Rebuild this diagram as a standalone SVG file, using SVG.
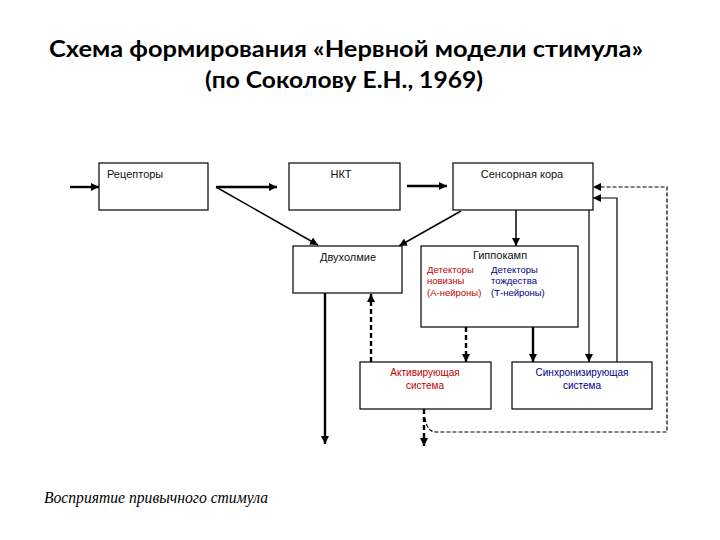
<svg xmlns="http://www.w3.org/2000/svg" width="720" height="540" viewBox="0 0 720 540">
<defs>
<marker id="ah" viewBox="0 0 10 10" refX="10" refY="5" markerWidth="8" markerHeight="8" markerUnits="userSpaceOnUse" orient="auto">
<path d="M0,0 L10,5 L0,10 z" fill="#000"/>
</marker>
</defs>
<style>
.box{fill:#fff;stroke:#000;stroke-width:1.2}
.t{font-family:"Liberation Sans",Arial,sans-serif;font-size:11px;font-weight:normal;fill:#111}
.s{font-family:"Liberation Sans",Arial,sans-serif;font-size:9.5px;font-weight:normal}
.red{fill:#c00000}
.blue{fill:#000080}
.title{font-family:Lato,"Open Sans",sans-serif;font-weight:bold;font-size:23px;fill:#000}
.thick{stroke:#000;stroke-width:2.4;fill:none}
.mid{stroke:#000;stroke-width:1.5;fill:none}
.thin{stroke:#000;stroke-width:1.2;fill:none}
.dash{stroke:#000;stroke-width:2.4;fill:none;stroke-dasharray:5,3}
.dthin{stroke:#000;stroke-width:1.2;fill:none;stroke-dasharray:4,2}
</style>
<rect width="720" height="540" fill="#fff"/>
<g id="title">
<text class="title" x="49" y="57" textLength="594" lengthAdjust="spacingAndGlyphs">Схема формирования «Нервной модели стимула»</text>
<text class="title" x="205" y="88" textLength="278" lengthAdjust="spacingAndGlyphs">(по Соколову Е.Н., 1969)</text>
</g>
<g id="connectors">
<line class="thick" x1="70" y1="187" x2="99" y2="187" marker-end="url(#ah)"/>
<line class="thick" x1="216" y1="187" x2="277" y2="187" marker-end="url(#ah)"/>
<line class="mid" x1="216" y1="187" x2="318" y2="245" marker-end="url(#ah)"/>
<line class="thick" x1="407" y1="186" x2="447" y2="186" marker-end="url(#ah)"/>
<line class="mid" x1="461" y1="211" x2="399" y2="246" marker-end="url(#ah)"/>
<line class="mid" x1="516" y1="210" x2="516" y2="246" marker-end="url(#ah)"/>
<line class="thick" x1="325" y1="293" x2="325" y2="444" marker-end="url(#ah)"/>
<line class="dash" x1="371" y1="362" x2="371" y2="294" marker-end="url(#ah)"/>
<line class="dash" x1="466" y1="327" x2="466" y2="362" marker-end="url(#ah)"/>
<line class="thick" x1="533" y1="327" x2="533" y2="362" marker-end="url(#ah)"/>
<line class="thin" x1="589" y1="210" x2="589" y2="362" marker-end="url(#ah)"/>
<polyline class="thin" points="617,362 617,198 593,198" marker-end="url(#ah)"/>
<line class="dash" x1="424" y1="409" x2="424" y2="446" marker-end="url(#ah)"/>
<path class="dthin" d="M425,418 Q427,432 436,432 L667,432 L667,187 L593,187" marker-end="url(#ah)"/>
</g>
<g id="receptors">
<rect class="box" x="99" y="163" width="109" height="47"/>
<text class="t" x="107" y="178">Рецепторы</text>
</g>
<g id="nkt">
<rect class="box" x="289" y="163" width="111" height="47"/>
<text class="t" x="341" y="178" text-anchor="middle">НКТ</text>
</g>
<g id="sensory">
<rect class="box" x="453" y="163" width="140" height="47"/>
<text class="t" x="522" y="178" text-anchor="middle">Сенсорная кора</text>
</g>
<g id="dvuholmie">
<rect class="box" x="293" y="246" width="109" height="47"/>
<text class="t" x="348" y="261" text-anchor="middle">Двухолмие</text>
</g>
<g id="hippocampus">
<rect class="box" x="421" y="246" width="157" height="81"/>
<text class="t" x="500" y="259" text-anchor="middle">Гиппокамп</text>
<text class="s red" x="427" y="273">Детекторы</text>
<text class="s red" x="427" y="284">новизны</text>
<text class="s red" x="427" y="296">(А-нейроны)</text>
<text class="s blue" x="491" y="273">Детекторы</text>
<text class="s blue" x="491" y="284">тождества</text>
<text class="s blue" x="491" y="296">(Т-нейроны)</text>
</g>
<g id="activating">
<rect class="box" x="360" y="362" width="131" height="47"/>
<text class="s red" x="425" y="376" text-anchor="middle" style="font-size:10px">Активирующая</text>
<text class="s red" x="425" y="389" text-anchor="middle" style="font-size:10px">система</text>
</g>
<g id="synchronizing">
<rect class="box" x="512" y="362" width="140" height="47"/>
<text class="s blue" x="582" y="376" text-anchor="middle" style="font-size:10px">Синхронизирующая</text>
<text class="s blue" x="582" y="389" text-anchor="middle" style="font-size:10px">система</text>
</g>
<g id="caption">
<text x="44" y="503" textLength="224" lengthAdjust="spacingAndGlyphs" style="font-family:'Liberation Serif',serif;font-style:italic;font-size:16px;fill:#000">Восприятие привычного стимула</text>
</g>
</svg>
